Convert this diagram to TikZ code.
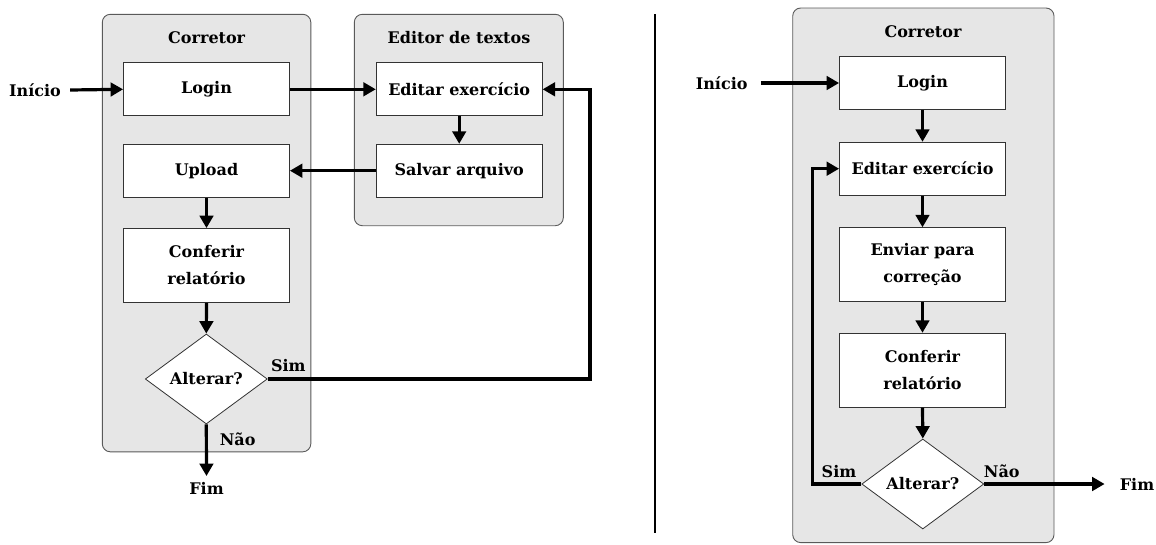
\documentclass[tikz,border=0pt]{standalone}
\usepackage{fontspec}
\setmainfont{DejaVu Serif}
\usetikzlibrary{arrows.meta,shapes.geometric,calc}
\definecolor{lanefill}{RGB}{230,230,230}
\definecolor{laneedge}{RGB}{90,90,90}
\begin{document}
\begin{tikzpicture}[x=1pt,y=-1pt,
  every node/.style={font=\fontsize{16}{27}\selectfont\bfseries},
  lane/.style={draw=laneedge,fill=lanefill,line width=0.9pt,rounded corners=8pt},
  box/.style={draw=black!80,fill=white,line width=0.8pt,minimum width=166pt,minimum height=53pt,inner sep=0pt,align=center},
  tallbox/.style={box,minimum height=74pt},
  dec/.style={draw=black!80,fill=white,line width=0.8pt,shape=diamond,minimum width=122pt,minimum height=90pt,inner sep=0pt},
  txt/.style={inner sep=0pt},
  title/.style={inner sep=0pt},
  flow/.style={line width=3.2pt,-{Triangle[length=12.5pt,width=13.5pt]}}]
\useasboundingbox (0,0) rectangle (1156,544);
% ---------- left panel ----------
\draw[lane] (102.3,14.3) rectangle (310.8,451.8);
\draw[lane] (354.3,14.3) rectangle (563.3,225.7);
\node[title] (t1) at (206.7,37.5) {Corretor};
\node[title] (t2) at (459,37.7) {Editor de textos};
\node[box] (login) at (206.5,89.3) {Login};
\node[box] (upload) at (206.5,170.7) {Upload};
\node[tallbox] (conf) at (206.5,265.5) {Conferir\\relatório};
\node[dec] (alt) at (206.3,379) {Alterar?};
\node[box] (edit) at (459.2,89.3) {Editar exercício};
\node[box] (salvar) at (459.2,170.7) {Salvar arquivo};
\node[txt] (ini) at (35,90) {Início};
\node[txt] (fim) at (206.5,488.3) {Fim};
\node[txt] (sim) at (288.3,366) {Sim};
\node[txt] (nao) at (237.7,439.3) {Não};
\coordinate (ret) at (590,379);
\draw[flow] ([xshift=9pt]ini.east) -- (login.west);
\draw[flow] (login.east) -- (edit.west);
\draw[flow] (edit.south) -- (salvar.north);
\draw[flow] (salvar.west) -- (upload.east);
\draw[flow] (upload.south) -- (conf.north);
\draw[flow] (conf.south) -- (alt.north);
\draw[flow] (alt.south) -- ([yshift=6pt]fim.north);
\draw[flow] (alt.east) -- (ret) |- (edit.east);
% ---------- divider ----------
\coordinate (d1) at (655,14);
\coordinate (d2) at (655,533);
\draw[line width=2pt] (d1) -- (d2);
% ---------- right panel ----------
\draw[lane] (792.7,8) rectangle (1054,542.6);
\node[title] (t3) at (923,32) {Corretor};
\node[box] (login2) at (922.5,83) {Login};
\node[box] (edit2) at (922.5,168.7) {Editar exercício};
\node[tallbox] (env2) at (922.5,264.7) {Enviar para\\correção};
\node[tallbox] (conf2) at (922.5,370.2) {Conferir\\relatório};
\node[dec] (alt2) at (922.8,484) {Alterar?};
\node[txt] (ini2) at (721.7,83) {Início};
\node[txt] (fim2) at (1137,484) {Fim};
\node[txt] (sim2) at (839,471.7) {Sim};
\node[txt] (nao2) at (1001.7,471.7) {Não};
\coordinate (ret2) at (812.7,484);
\draw[flow] ([xshift=13pt]ini2.east) -- (login2.west);
\draw[flow] (login2.south) -- (edit2.north);
\draw[flow] (edit2.south) -- (env2.north);
\draw[flow] (env2.south) -- (conf2.north);
\draw[flow] (conf2.south) -- (alt2.north);
\draw[flow] (alt2.east) -- ([xshift=-15pt]fim2.west);
\draw[flow] (alt2.west) -- (ret2) |- (edit2.west);
\end{tikzpicture}
\end{document}
